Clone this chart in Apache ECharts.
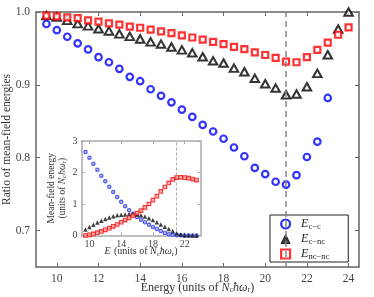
<!DOCTYPE html>
<html><head><meta charset="utf-8">
<script src="https://cdn.jsdelivr.net/npm/echarts@6/dist/echarts.min.js"></script>
<style>html,body{margin:0;padding:0;background:#fff}#c{width:374px;height:297px}</style>
</head><body><div id="c"></div>
<script>
// ---- main plot data ----
const energies = [9.5,10,10.5,11,11.5,12,12.5,13,13.5,14,14.5,15,15.5,16,16.5,17,17.5,18,18.5,19,19.5,20,20.5,21,21.5,22,22.5,23,23.5,24];
const ratioCC = [0.9835,0.975,0.966,0.957,0.9487,0.938,0.931,0.922,0.911,0.905,0.894,0.885,0.876,0.866,0.856,0.845,0.836,0.826,0.814,0.802,0.786,0.7775,0.767,0.763,0.776,0.801,0.822,0.882,null,null];
const ratioCNC = [0.995,0.993,0.9885,0.984,0.981,0.977,0.974,0.970,0.9665,0.963,0.959,0.956,0.952,0.948,0.944,0.9386,0.933,0.930,0.923,0.918,0.909,0.9015,0.8956,0.8864,0.8874,0.8974,0.9157,0.9413,0.9766,1.0];
const ratioNCNC = [0.995,0.994,0.9926,0.9917,0.9885,0.9867,0.9844,0.9826,0.980,0.9784,0.9757,0.9734,0.971,0.968,0.965,0.962,0.959,0.956,0.952,0.949,0.9445,0.941,0.937,0.932,0.931,0.938,0.948,0.958,0.9688,0.979];
const mainXTicks = [10,12,14,16,18,20,22,24];
const mainYTicks = [0.7,0.8,0.9,1.0];
const resonanceEnergy = 21;
// ---- inset data ----
const insetEnergies = [9.5,10,10.5,11,11.5,12,12.5,13,13.5,14,14.5,15,15.5,16,16.5,17,17.5,18,18.5,19,19.5,20,20.5,21,21.5,22,22.5,23,23.5];
const insetCC = [2.65,2.47,2.28,2.09,1.90,1.72,1.55,1.38,1.22,1.07,0.93,0.80,0.69,0.59,0.50,0.42,0.34,0.27,0.21,0.14,0.08,0.04,0.02,0.01,0.005,0,0,0,0];
const insetCNC = [0.19,0.27,0.34,0.41,0.47,0.52,0.57,0.61,0.64,0.66,0.67,0.68,0.68,0.67,0.64,0.60,0.55,0.49,0.42,0.35,0.28,0.21,0.14,0.07,0.03,0.01,0.01,0,0];
const insetNCNC = [0.0,0.02,0.05,0.09,0.13,0.18,0.23,0.29,0.35,0.42,0.49,0.56,0.63,0.71,0.79,0.89,1.0,1.12,1.25,1.40,1.54,1.67,1.78,1.84,1.85,1.84,1.82,1.79,1.76];
const insetXTicks = [10,14,18,22];
const insetYTicks = [0,1,2,3];
const legendNames = ['E c−c','E c−nc','E nc−nc'];
const legendSubs = ['c−c','c−nc','nc−nc'];

const FONT = 'Liberation Serif';
const zip = (xs, ys) => xs.map((x,i) => ys[i] == null ? null : [x, ys[i]]).filter(d => d);

const rich = (fs) => ({
  t:{fontFamily:FONT,fontSize:fs,color:'#333'},
  i:{fontFamily:FONT,fontSize:fs,fontStyle:'italic',color:'#333'},
  s:{fontFamily:FONT,fontSize:Math.round(fs*0.7),color:'#333',padding:[Math.round(fs*0.45),0,0,0]}
});

function xAx(grid, min, max, ticks, pos, show, extra) {
  return Object.assign({
    gridIndex:grid, type:'value', min:min, max:max, position:pos,
    axisLine:{show:true,onZero:false,lineStyle:{color: grid===0?'#666':'#aaa', width:1.5}},
    axisTick:{show:true,inside:true,length: grid===0?4:3,customValues:ticks,lineStyle:{color:grid===0?'#666':'#aaa',width:1}},
    axisLabel:{show:show,customValues:ticks,margin: grid===0?6:4,fontFamily:FONT,fontSize: grid===0?11.5:10,color:'#444'},
    splitLine:{show:false},
    nameMoveOverlap:false
  }, extra||{});
}

const chart = echarts.init(document.getElementById('c'), null, {renderer:'canvas'});
chart.setOption({
  animation:false,
  backgroundColor:'#fff',
  grid:[
    {left:36, top:12, width:323, height:255, outerBoundsMode:'none', containLabel:false},
    {left:81.5, top:141, width:119, height:94.5, show:true, backgroundColor:'#fff', borderWidth:0, z:3, outerBoundsMode:'none', containLabel:false}
  ],
  xAxis:[
    xAx(0, 9, 24.5, mainXTicks, 'bottom', true, {
      name:'{t|Energy (units of }{i|N}{s|c}{i|ħω}{s|r}{t|)}', nameLocation:'middle', nameGap:14,
      nameTextStyle:{rich:rich(12)}
    }),
    xAx(0, 9, 24.5, mainXTicks, 'top', false),
    xAx(1, 9, 24, insetXTicks, 'bottom', true, {
      name:'{i|E} {t|(units of }{i|N}{s|c}{i|ħω}{s|r}{t|)}', nameLocation:'middle', nameGap:10,
      nameTextStyle:{rich:rich(10)}, z:4
    }),
    xAx(1, 9, 24, insetXTicks, 'top', false, {z:4})
  ],
  yAxis:[
    xAx(0, 0.65, 1.0, mainYTicks, 'left', true, {
      axisLabel:{customValues:mainYTicks,margin:6,fontFamily:FONT,fontSize:11.5,color:'#444',formatter:v=>v.toFixed(1)},
      name:'{t|Ratio of mean-field energies}', nameLocation:'middle', nameGap:23, nameRotate:90,
      nameTextStyle:{rich:rich(11.5)}
    }),
    xAx(0, 0.65, 1.0, mainYTicks, 'right', false),
    xAx(1, 0, 3, insetYTicks, 'left', true, {
      name:'{t|Mean-field energy}\n{t|(units of }{i|N}{s|c}{i|ħω}{s|r}{t|)}', nameLocation:'middle', nameGap:14, nameRotate:90,
      nameTextStyle:{rich:rich(9.5), lineHeight:11}, z:4
    }),
    xAx(1, 0, 3, insetYTicks, 'right', false, {z:4})
  ],
  legend:{
    orient:'vertical', left:270, top:215,
    padding:[2,19,1,10], itemWidth:9, itemHeight:9, itemGap:1,
    borderColor:'#222', borderWidth:1, backgroundColor:'#fff',
    data:[
      {name:legendNames[0], icon:'circle', itemStyle:{color:'#fff',borderColor:'#0000ff',borderWidth:2.2}},
      {name:legendNames[1], icon:'triangle', itemStyle:{color:'#111',borderColor:'#000',borderWidth:1}},
      {name:legendNames[2], icon:'rect', itemStyle:{color:'#fff',borderColor:'#ff0000',borderWidth:2.2}}
    ],
    formatter: n => '{g|}{e|E}{s|' + legendSubs[legendNames.indexOf(n)] + '}',
    textStyle:{lineHeight:13, rich:{
      g:{width:6, lineHeight:13},
      e:{fontFamily:FONT,fontStyle:'italic',fontSize:12,color:'#222',lineHeight:13},
      s:{fontFamily:FONT,fontSize:8.5,color:'#222',lineHeight:13,padding:[5,0,0,0]}
    }}
  },
  series:[
    {name:legendNames[0], type:'scatter', xAxisIndex:0, yAxisIndex:0, data:zip(energies, ratioCC),
     symbol:'circle', symbolSize:6.5, itemStyle:{color:'#fff',borderColor:'#0000ff',borderWidth:2.2},
     markLine:{silent:true, symbol:['none','none'], label:{show:false},
       lineStyle:{type:[6,4],color:'#888',width:1.5}, data:[{xAxis:resonanceEnergy}]}},
    {name:legendNames[1], type:'scatter', xAxisIndex:0, yAxisIndex:0, data:zip(energies, ratioCNC),
     symbol:'triangle', symbolSize:[8.5,7.5], itemStyle:{color:'#fff',borderColor:'#000',borderWidth:2}},
    {name:legendNames[2], type:'scatter', xAxisIndex:0, yAxisIndex:0, data:zip(energies, ratioNCNC),
     symbol:'rect', symbolSize:6, itemStyle:{color:'#fff',borderColor:'#ff0000',borderWidth:2.2}},
    {name:'inset c-c', type:'scatter', xAxisIndex:2, yAxisIndex:2, data:zip(insetEnergies, insetCC), z:5,
     symbol:'circle', symbolSize:3.4, itemStyle:{color:'#aab',borderColor:'#2233ff',borderWidth:1.1},
     markLine:{silent:true, symbol:['none','none'], label:{show:false}, z:4,
       lineStyle:{type:[3,2],color:'#999',width:0.8}, data:[{xAxis:resonanceEnergy}]}},
    {name:'inset c-nc', type:'scatter', xAxisIndex:2, yAxisIndex:2, data:zip(insetEnergies, insetCNC), z:5,
     symbol:'triangle', symbolSize:4.5, itemStyle:{color:'#111'}},
    {name:'inset nc-nc', type:'scatter', xAxisIndex:2, yAxisIndex:2, data:zip(insetEnergies, insetNCNC), z:5,
     symbol:'rect', symbolSize:3.6, itemStyle:{color:'#f99',borderColor:'#ee1111',borderWidth:1.1}}
  ]
});
</script></body></html>
